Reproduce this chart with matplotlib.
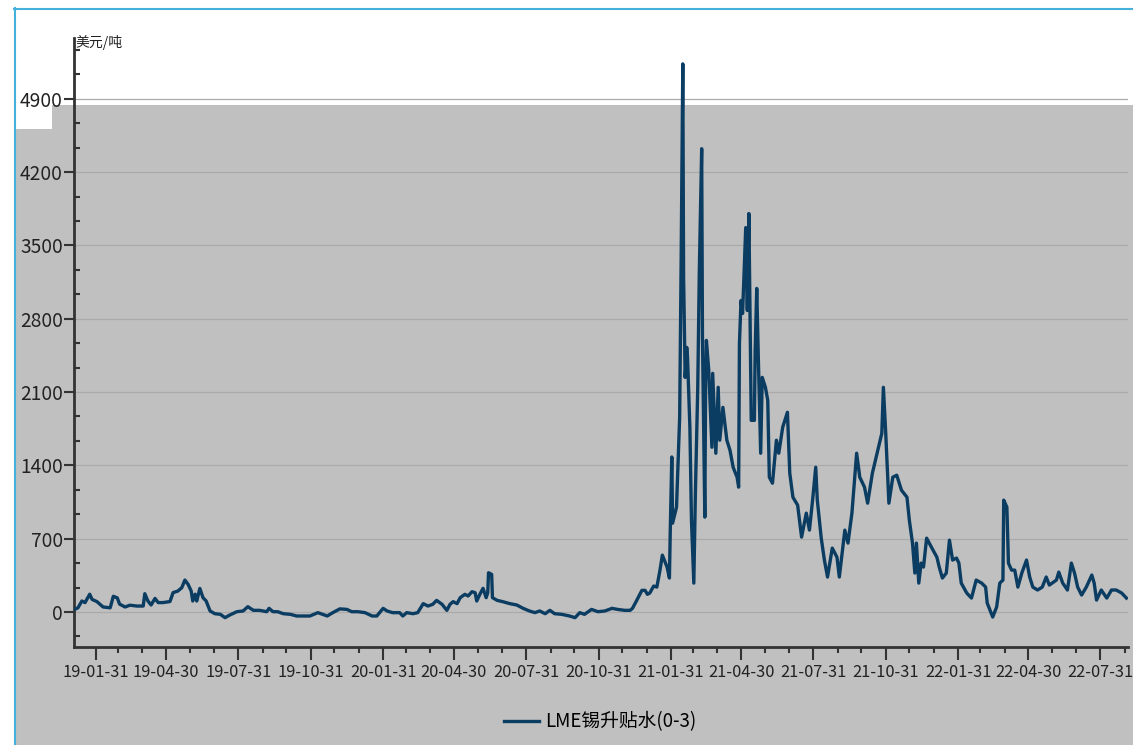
import pandas as pd
import matplotlib
matplotlib.use('Agg')
import matplotlib.pyplot as plt
import matplotlib.dates as mdates
from matplotlib.ticker import MultipleLocator
from matplotlib.patches import Rectangle
from matplotlib.lines import Line2D

plt.rcParams['font.family'] = ['Noto Sans CJK SC', 'DejaVu Sans']

# days counted from 2019-01-31, values in USD/t
days = [-27, -23, -18, -14, -8, -5, 1, 9, 18, 22, 27, 30, 37, 43, 52, 60, 62, 66, 70, 75,
        79, 85, 94, 98, 104, 109, 113, 117, 121, 123, 126, 128, 132, 136, 140, 145, 151, 158, 164, 170,
        179, 187, 193, 200, 208, 217, 220, 225, 231, 238, 247, 255, 263, 272, 282, 288, 294, 301, 310, 319,
        325, 333, 342, 351, 357, 365, 370, 377, 386, 390, 395, 403, 409, 416, 422, 428, 433, 440, 446, 450,
        454, 459, 463, 469, 473, 478, 482, 484, 488, 492, 496, 498, 499, 503, 504, 510, 517, 526, 535, 543,
        551, 558, 564, 571, 577, 583, 592, 602, 609, 615, 621, 630, 638, 647, 656, 663, 672, 679, 682, 687,
        694, 698, 701, 704, 709, 713, 717, 720, 726, 729, 730, 732, 733, 738, 740, 742, 744, 746, 747, 749,
        751, 752, 755, 757, 760, 762, 765, 767, 770, 771, 774, 775, 776, 779, 783, 784, 788, 791, 793, 797,
        800, 802, 806, 810, 815, 817, 818, 820, 822, 826, 828, 830, 832, 833, 837, 838, 840, 842, 845, 847,
        851, 854, 856, 860, 865, 868, 873, 879, 882, 886, 892, 897, 903, 907, 911, 915, 917, 922, 926, 930,
        936, 942, 945, 952, 956, 961, 967, 971, 977, 981, 987, 993, 999, 1001, 1004, 1008, 1013, 1018, 1024, 1031,
        1034, 1038, 1041, 1043, 1046, 1049, 1052, 1056, 1062, 1069, 1072, 1076, 1081, 1085, 1089, 1094, 1097, 1100, 1107, 1113,
        1119, 1126, 1131, 1133, 1140, 1145, 1149, 1153, 1154, 1158, 1160, 1164, 1168, 1172, 1177, 1183, 1187, 1191, 1197, 1203,
        1208, 1212, 1221, 1224, 1229, 1235, 1240, 1244, 1248, 1253, 1259, 1266, 1269, 1272, 1278, 1285, 1291, 1297, 1304, 1310]

spread = [25, 40, 105, 90, 170, 120, 100, 48, 40, 150, 135, 75, 48, 65, 57, 57, 175, 105, 67, 130,
          90, 90, 100, 185, 200, 232, 305, 265, 200, 105, 170, 105, 225, 137, 105, 10, -16, -22, -54, -29,
          3, 10, 51, 16, 16, 3, 35, 3, 3, -16, -22, -38, -38, -38, -6, -22, -38, -6, 30, 25,
          3, 3, -6, -38, -38, 35, 10, -6, -6, -38, -6, -16, -6, 80, 57, 73, 111, 73, 16, 73,
          99, 80, 137, 169, 153, 194, 184, 105, 169, 226, 137, 184, 375, 359, 137, 111, 99, 80, 67, 35,
          10, -6, 10, -16, 16, -16, -22, -38, -54, -6, -22, 25, 3, 10, 35, 25, 16, 16, 35, 105,
          207, 207, 169, 181, 248, 238, 400, 543, 429, 324, 753, 1480, 848, 1001, 1420, 1859, 3451, 5233, 3194, 2240,
          2526, 2431, 1764, 877, 276, 1134, 2145, 3260, 4423, 2622, 906, 2183, 2593, 2307, 1573, 2278, 1516, 2145, 1640, 1954,
          1764, 1640, 1544, 1382, 1287, 1192, 2564, 2974, 2850, 3670, 2879, 3804, 2498, 1830, 1830, 2498, 3089, 2431, 1516, 2240,
          2145, 2021, 1287, 1230, 1640, 1516, 1764, 1907, 1325, 1096, 1020, 715, 944, 782, 1068, 1382, 1068, 705, 496, 334,
          610, 524, 334, 782, 658, 944, 1516, 1287, 1192, 1039, 1325, 1516, 1706, 2145, 1706, 1039, 1287, 1306, 1163, 1096,
          877, 658, 372, 658, 276, 467, 429, 705, 620, 524, 429, 324, 372, 686, 496, 515, 467, 276, 181, 133,
          305, 276, 238, 86, -48, 48, 276, 305, 1068, 1001, 467, 400, 400, 238, 372, 496, 334, 238, 210, 238,
          334, 257, 305, 381, 276, 210, 467, 372, 238, 162, 238, 353, 276, 114, 210, 133, 210, 210, 181, 133]

series_name = 'LME锡升贴水(0-3)'
unit_label = '美元/吨'

dates = pd.Timestamp('2019-01-31') + pd.to_timedelta(days, unit='D')
W, H = 1133, 745

fig = plt.figure(figsize=(W / 100, H / 100), dpi=100, facecolor='white')

# grey panel behind the chart, white strip on top
fig.patches.append(Rectangle((14 / W, 0), 1, 1 - 129 / H, transform=fig.transFigure,
                             facecolor='#c0c0c0', edgecolor='none', zorder=-10))
fig.patches.append(Rectangle((52 / W, 0), 1, 1 - 105 / H, transform=fig.transFigure,
                             facecolor='#c0c0c0', edgecolor='none', zorder=-10))
fig.lines.append(Line2D([14.5 / W, 14.5 / W], [0, 1 - 8 / H], transform=fig.transFigure,
                        color='#45b0d9', lw=1.5))
fig.lines.append(Line2D([14 / W, 1], [1 - 8.5 / H, 1 - 8.5 / H], transform=fig.transFigure,
                        color='#45b0d9', lw=1.5))

ax = fig.add_axes([74 / W, 1 - 647 / H, (1128 - 74) / W, (647 - 38) / H])
ax.set_facecolor('none')

ax.plot(dates, spread, color='#0b3c61', lw=2.4, label=series_name, zorder=3)

ax.set_ylim(-334, 5480)
ax.set_xlim(pd.Timestamp('2019-01-31') - pd.Timedelta(days=28),
            pd.Timestamp('2019-01-31') + pd.Timedelta(days=1312))

ax.yaxis.set_major_locator(MultipleLocator(700))
ax.yaxis.set_minor_locator(MultipleLocator(700 / 3))
ax.xaxis.set_major_locator(mdates.MonthLocator(bymonth=[1, 4, 7, 10], bymonthday=-1))
ax.xaxis.set_minor_locator(mdates.MonthLocator(bymonthday=-1))
ax.xaxis.set_major_formatter(mdates.DateFormatter('%y-%m-%d'))

ax.grid(axis='y', which='major', color='#aaaaaa', lw=0.9, zorder=0)

for s in ['top', 'right']:
    ax.spines[s].set_visible(False)
for s in ['left', 'bottom']:
    ax.spines[s].set_color('#333333')
    ax.spines[s].set_linewidth(2)

ax.tick_params(axis='x', which='major', direction='out', length=9.5, width=1.5,
               color='#333333', labelsize=11.8, pad=3, labelcolor='#222222')
ax.tick_params(axis='x', which='minor', direction='out', length=4, width=1.5, color='#333333')
ax.tick_params(axis='y', which='major', direction='out', length=7, width=1.5,
               color='#333333', labelsize=13.8, pad=1, labelcolor='#222222')
ax.tick_params(axis='y', which='minor', direction='in', length=4, width=1.5, color='#333333')

fig.text(75 / W, 1 - 42 / H, unit_label, fontsize=10, ha='left', va='center', color='#222222')

fig.legend(loc='center', bbox_to_anchor=(600 / W, 1 - 722 / H), frameon=False,
           fontsize=13.5, handlelength=1.9, handletextpad=0.3)

fig.savefig('out.png', dpi=100, facecolor=fig.get_facecolor())
